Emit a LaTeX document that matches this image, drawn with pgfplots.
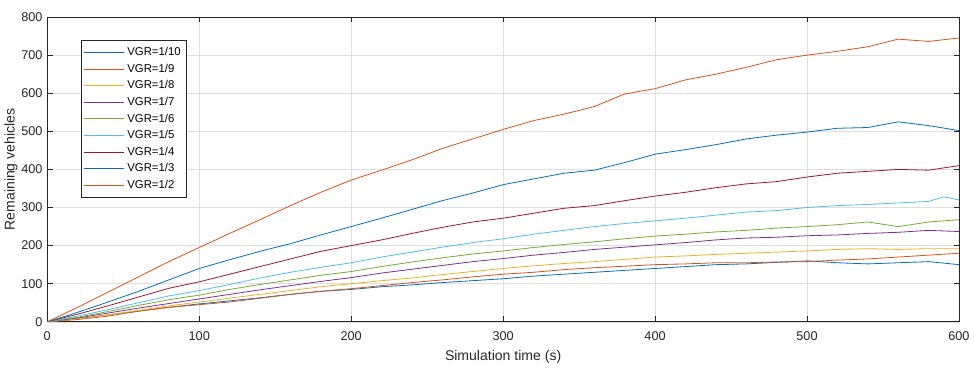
\documentclass[border=0pt]{standalone}
\usepackage{pgfplots}
\pgfplotsset{compat=1.18}
\usepackage{fontspec}
\setmainfont{Liberation Sans}
\definecolor{c1}{rgb}{0,0.447,0.741}
\definecolor{c2}{rgb}{0.850,0.325,0.098}
\definecolor{c3}{rgb}{0.929,0.694,0.125}
\definecolor{c4}{rgb}{0.494,0.184,0.556}
\definecolor{c5}{rgb}{0.466,0.674,0.188}
\definecolor{c6}{rgb}{0.301,0.745,0.933}
\definecolor{c7}{rgb}{0.635,0.078,0.184}
\definecolor{axgray}{rgb}{0.15,0.15,0.15}
\begin{document}
\begin{tikzpicture}
\begin{axis}[
    scale only axis,
    width=682pt, height=228pt,
    xmin=0, xmax=600, ymin=0, ymax=800,
    xtick={0,100,...,600}, ytick={0,100,...,800},
    grid=major, grid style={gray!25, line width=0.4pt},
    axis line style={axgray, line width=0.5pt},
    tick style={axgray, line width=0.5pt},
    tick align=inside, major tick length=4pt,
    ticklabel style={font=\fontsize{9.5}{11}\selectfont, text=axgray},
    xticklabel style={yshift=-3.5pt},
    /pgf/number format/assume math mode=true,
    label style={font=\fontsize{10.5}{12}\selectfont, text=axgray},
    xlabel={Simulation time (s)},
    ylabel={Remaining vehicles},
    xlabel style={yshift=-1pt},
    ylabel style={yshift=-4pt},
    every axis plot/.append style={line width=0.6pt},
    legend style={at={(0.037,0.924)}, anchor=north west, draw=axgray,
        font=\fontsize{8.5}{10}\selectfont, row sep=0.8pt,
        inner xsep=2pt, inner ysep=3pt},
    legend image post style={line width=0.6pt},
    legend cell align=left,
    legend image code/.code={\draw[#1] (0cm,0cm) -- (1.05cm,0cm);},
]
\addplot[c1] coordinates {(0,0) (20,8) (40,18) (60,28) (80,38) (100,47) (120,55) (140,63) (160,72) (180,80) (200,85) (220,92) (240,97) (260,103) (280,108) (300,113) (320,120) (340,125) (360,130) (380,135) (400,140) (420,145) (440,150) (460,152) (480,156) (500,160) (520,155) (540,152) (560,155) (580,158) (600,150)};
\addlegendentry{VGR=1/10}
\addplot[c2] coordinates {(0,0) (20,6) (40,15) (60,28) (80,38) (100,45) (120,52) (140,62) (160,72) (180,80) (200,87) (220,95) (240,103) (260,110) (280,118) (300,125) (320,130) (340,137) (360,142) (380,146) (400,150) (420,152) (440,155) (460,155) (480,157) (500,158) (520,162) (540,165) (560,170) (580,175) (600,180)};
\addlegendentry{VGR=1/9}
\addplot[c3] coordinates {(0,0) (20,8) (40,18) (60,30) (80,42) (100,52) (120,62) (140,72) (160,82) (180,92) (200,100) (220,108) (240,115) (260,124) (280,132) (300,140) (320,147) (340,153) (360,158) (380,164) (400,170) (420,173) (440,177) (460,180) (480,183) (500,186) (520,190) (540,192) (560,190) (580,192) (600,192)};
\addlegendentry{VGR=1/8}
\addplot[c4] coordinates {(0,0) (20,10) (40,23) (60,36) (80,48) (100,60) (120,72) (140,84) (160,95) (180,106) (200,116) (220,128) (240,138) (260,148) (280,158) (300,166) (320,175) (340,182) (360,190) (380,196) (400,202) (420,208) (440,215) (460,220) (480,222) (500,226) (520,228) (540,232) (560,235) (580,240) (600,237)};
\addlegendentry{VGR=1/7}
\addplot[c5] coordinates {(0,0) (20,12) (40,27) (60,43) (80,58) (100,70) (120,85) (140,98) (160,110) (180,122) (200,132) (220,145) (240,157) (260,168) (280,178) (300,186) (320,195) (340,203) (360,210) (380,218) (400,225) (420,230) (440,236) (460,240) (480,246) (500,250) (520,255) (540,262) (560,250) (580,262) (600,268)};
\addlegendentry{VGR=1/6}
\addplot[c6] coordinates {(0,0) (20,15) (40,32) (60,50) (80,68) (100,82) (120,98) (140,115) (160,130) (180,143) (200,155) (220,170) (240,183) (260,196) (280,208) (300,218) (320,230) (340,240) (360,250) (380,258) (400,265) (420,272) (440,280) (460,288) (480,292) (500,300) (520,305) (540,308) (560,312) (580,316) (590,328) (600,320)};
\addlegendentry{VGR=1/5}
\addplot[c7] coordinates {(0,0) (20,20) (40,42) (60,65) (80,88) (100,105) (120,125) (140,145) (160,165) (180,185) (200,200) (220,215) (240,232) (260,248) (280,262) (300,272) (320,285) (340,298) (360,305) (380,318) (400,330) (420,340) (440,352) (460,362) (480,368) (500,380) (520,390) (540,395) (560,400) (580,398) (600,410)};
\addlegendentry{VGR=1/4}
\addplot[c1] coordinates {(0,0) (20,25) (40,52) (60,80) (80,110) (100,140) (120,163) (140,185) (160,205) (180,228) (200,250) (220,272) (240,295) (260,318) (280,338) (300,360) (320,375) (340,390) (360,398) (380,418) (400,440) (420,452) (440,465) (460,480) (480,490) (500,498) (520,508) (540,510) (560,525) (580,515) (600,502)};
\addlegendentry{VGR=1/3}
\addplot[c2] coordinates {(0,0) (20,38) (40,78) (60,118) (80,158) (100,195) (120,232) (140,268) (160,305) (180,340) (200,372) (220,398) (240,425) (260,455) (280,480) (300,505) (320,528) (340,545) (360,565) (380,598) (400,612) (420,635) (440,650) (460,668) (480,688) (500,700) (520,710) (540,722) (560,742) (580,736) (600,745)};
\addlegendentry{VGR=1/2}
\end{axis}
% white margins as in the reference
\path[draw=none] (current axis.south west) ++(0,-42.75pt) -- ++(1pt,0);
\path[draw=none] (current axis.north west) ++(0,12.75pt) -- ++(1pt,0);
\end{tikzpicture}
\end{document}
